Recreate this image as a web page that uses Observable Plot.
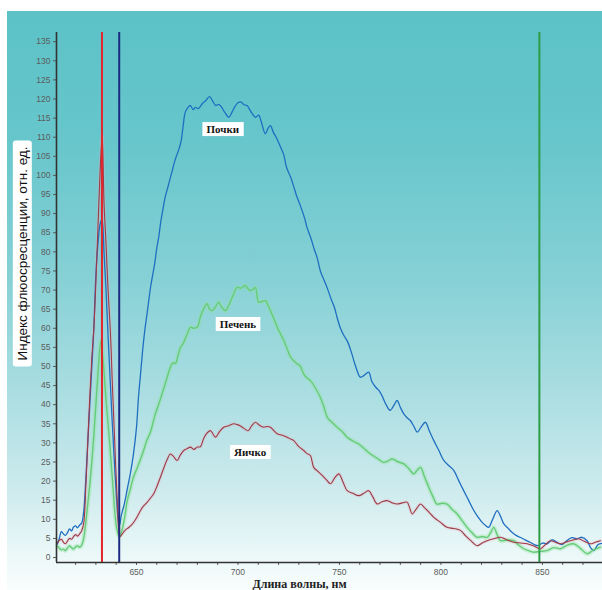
<!DOCTYPE html>
<html><head><meta charset="utf-8">
<script src="https://cdn.jsdelivr.net/npm/d3@7"></script>
<script src="https://cdn.jsdelivr.net/npm/@observablehq/plot@0.6"></script>
<style>
html,body{margin:0;padding:0;background:#fff;}
#wrap{position:relative;width:602px;height:590px;overflow:hidden;}
#bg{position:absolute;left:7px;top:11px;right:0;bottom:0;background:linear-gradient(to bottom,#5cc2c7 0%,#66c6cb 22%,#84d0d5 45%,#a8dde1 65%,#cceaed 82%,#eef9f9 95%,#f8fdfd 100%);}
#chart{position:absolute;left:0;top:0;}
</style></head>
<body><div id="wrap"><div id="bg"></div><div id="chart"></div></div>
<script>
// ---- data (wavelength nm, fluorescence index) ----
const kidney = [[611,3.5],[612,5],[613,6.8],[614,6.2],[615,5.8],[616,6.5],[617,7.5],[618,7],[619,8],[620,8.3],[621,7.8],[622,8.5],[623,9],[624,12],[625,20],[626,30],[627,40],[628,50],[629,60],[630,74],[631,82],[632,87],[633,88.5],[634,80],[635,70],[636,58],[637,47],[638,36],[639,26],[640,17],[641,10],[641.7,8.5],[642.5,11],[644,14],[645.5,18],[647,22],[648.5,27],[650,34],[651,42],[652,48],[653,54],[654,59],[655,63],[656,67],[657,71],[658,74],[659,77],[660,81],[661,84],[662,88],[663,91],[664,94],[665,96],[666,98],[667,100],[668,102],[669,104],[670,105.5],[671,107],[672,109],[673,113],[674,116.5],[675,117.5],[676.5,118.3],[678,117.2],[679,117.8],[680.5,117.5],[682.5,118.8],[684,119.5],[686,120.6],[687.5,119.5],[689,118.3],[690.5,118.6],[692,117.8],[693.5,116.5],[695.5,115.2],[697,116.5],[698.5,118],[700,119],[701.5,119.2],[703,118.5],[704.5,118.3],[706,117],[707.5,115.8],[708.7,115.2],[710.2,115.8],[711.5,114],[713.5,110.9],[715,112.5],[716,113],[717.5,111.2],[719,109.8],[721,107.4],[722.5,105.5],[724,102],[726,99.5],[727.5,97],[729,94.5],[731,91.7],[733,88.5],[734,86.4],[736,83.5],[737.5,80.8],[739,78.5],[740.6,75],[742.5,72.5],[744,70.5],[746,67.5],[747.5,65.5],[749,62.5],[750.5,60],[752,58.3],[754,56.5],[756,53.5],[758,50],[760.3,47.2],[762,47.6],[764.4,48.5],[766,46],[768,44.5],[769.5,43.7],[771,42.3],[773,40],[775,38.5],[776.8,39.8],[778.4,41.1],[780,39.3],[781.7,37.6],[783.3,36.6],[785,35.8],[786.7,34.3],[788.3,32.8],[790.3,34.2],[792.3,35.4],[794.4,33],[796.5,30.6],[799,28],[801.4,25.4],[804,24],[806.3,22.8],[808.7,20.2],[811.2,17.5],[813.7,14.9],[816.2,12.3],[818.3,10.6],[820.3,9.2],[822,8.4],[823.5,7.9],[825.5,10],[827.7,12.3],[829.5,10.6],[831,8.8],[833,7.7],[835,6.6],[837,5.8],[839,5.3],[841.5,4.6],[844,4],[846,3.4],[848,3.1],[850,3.8],[852.3,3.6],[854.8,4.6],[857.2,4],[859.6,3.4],[862,4.4],[864.5,5.2],[867,4.9],[869.5,5.3],[872,4.4],[873.7,2.6],[875.3,1.8],[877.4,3.4],[879.5,3.7]];

const liver = [[611,3],[612,2.5],[613,2],[614,2.2],[615,1.8],[616,2.5],[617,3],[618,2.6],[619,2.2],[620,2.8],[621,3],[622,2.7],[623,3.2],[624,5],[625,9],[626,14],[627,19],[628,25],[629,32],[630,40],[631,48],[632,55],[632.5,56.8],[633.5,52],[634.5,45],[635.5,38],[636.5,32],[637.5,25],[638.5,18],[639.5,11],[640.5,7],[641.5,5.5],[642.5,6.5],[644,10],[645.5,15],[647,18],[648.5,21],[650,23],[651.5,25],[653.5,28],[655,30.5],[657,33],[659,37],[661.5,41],[663,43.5],[665,47],[666.7,49.8],[668,51],[669.2,50.8],[670.5,53],[671.7,55],[673,56],[675,58.5],[676.6,60.3],[678,60],[680,60.3],[681.5,63],[683,65],[684.8,66.4],[686,65],[687.3,64.6],[688.8,65.5],[690.5,66.8],[692,65.5],[693.8,64.6],[695.5,66],[697.5,68.5],[699.6,70.7],[701.5,70.5],[703.7,71.2],[705,70.3],[706.2,69.9],[707.5,70.2],[708.6,70.7],[710.2,66.8],[711.8,67],[713.5,67.2],[714.8,66],[716,64.6],[717.7,62.5],[719.3,60.3],[721,58.5],[722.6,56.8],[724.3,54.5],[726,52.4],[728.5,51],[730.8,50],[732.4,48],[734,47],[735.7,46.3],[738,44.5],[740.6,41.9],[742.3,39.5],[744,36.7],[746.5,35.3],[748.9,34.1],[751.3,33],[753.8,31.5],[756.6,30.5],[759.5,29.7],[762.4,28.4],[765.3,27.1],[768.5,26],[771.8,24.9],[774,25.3],[776,25.8],[779,25],[781.7,24.5],[784.1,23.3],[786.6,21.9],[788.2,22.8],[789.9,23.6],[792,21],[794,18.4],[796,16],[798,14],[800.5,14.2],[803,14],[805.5,12.6],[808,11.4],[810.5,9.6],[812.9,7.9],[815.3,6.5],[817.8,5.3],[820.3,5.5],[822.8,5.3],[824.5,6.5],[826,7.9],[827.7,6],[829.3,4.4],[832.6,4.6],[835.9,4.4],[838.4,3.2],[840.8,2.3],[843.2,1.8],[845.7,1.4],[849,1.6],[852.3,1.8],[855.6,2.6],[858.9,2.3],[862.1,3.2],[865.4,3.6],[868.7,2.4],[872,1],[875.3,2],[878.6,2.7]];

const testis = [[611,3.8],[612,4.5],[613,4.8],[614,4],[615,3.6],[616,4.3],[617,5],[618,4.8],[619,5.5],[620,6],[621,5.6],[622,6.2],[623,7],[624,9],[625,18],[626,30],[627,42],[628,52],[629,60],[630,72],[631,86],[632,100],[633.1,110.5],[634,93],[635,82],[636,70],[637.2,58.5],[638,47],[639,34],[639.8,23.5],[640.6,14],[641.3,7],[642,5.5],[643,6.2],[644.5,7.2],[646,7.8],[647.5,8.5],[649,9.5],[650.5,10.8],[652,12.3],[653.5,13.5],[655,14.3],[656.8,15.5],[658.5,16.7],[660.2,18.8],[661.8,21],[663.5,23.5],[665,25.5],[666.7,27.1],[668.3,26.4],[670,25.4],[671.6,26.8],[673.3,28],[675,28.5],[676.6,28.9],[678.2,28.3],[680,28.9],[681.5,29],[683,31],[684.5,32.4],[686.5,33.2],[687.8,32.2],[689,31.5],[691,33],[693,34.1],[695.5,34.5],[698,35],[699.5,34.8],[701,34.5],[703,33.8],[705,33.2],[706.8,34.5],[708.6,35.4],[710.6,34.6],[712.7,34.1],[714.4,34.3],[716,34.1],[717.7,33.2],[719.3,32.4],[721.8,32],[724.2,31.5],[726,31],[727.5,30.6],[730,29],[732.4,28],[734,27.2],[735.7,26.7],[737.3,23.6],[739.5,22.5],[741.5,21.5],[743.6,20.3],[745.6,19.3],[747.6,20.8],[749.7,21.9],[751.8,19.7],[753.8,17.5],[756.6,16.8],[759.5,16.2],[762,16.8],[764.4,17.5],[766.5,15.8],[768.6,14],[771,14.6],[773.5,14.9],[776,14.3],[778.4,14],[781,14.3],[783.3,14.5],[784.6,13],[785.8,11.4],[788,12.8],[789.9,14],[792,13],[794.2,11.8],[796.5,10.5],[799.8,9.2],[803,7.9],[806.3,7.6],[809.6,7.1],[812.3,5.6],[815,4.3],[817.8,3.1],[820.3,3.8],[822.8,4.4],[826,4.9],[829.3,5.3],[832.6,4.6],[835.9,4],[839.2,3.8],[842.5,3.6],[845.8,3],[849,2.3],[851.5,3.4],[853.9,4.4],[856.4,4],[858.9,3.6],[861.3,4],[863.8,4.4],[865.9,4.7],[867.9,4.9],[870.8,4.2],[873.6,3.6],[876.1,4],[878.6,4.4]];

const markerNm = [633, 641.5, 848.5];
const seriesNames = ["Почки", "Печень", "Яичко"];
const labelAnchors = [[692.5, 112], [700, 61], [706, 27.5]];
const yTicks = [0,5,10,15,20,25,30,35,40,45,50,55,60,65,70,75,80,85,90,95,100,105,110,115,120,125,130,135];
const xTickLabels = [650, 700, 750, 800, 850];
const xMinorTicks = [620,630,640,650,660,670,680,690,700,710,720,730,740,750,760,770,780,790,800,810,820,830,840,850,860,870];
const yTitle = "Индекс флюосресценции, отн. ед.";
const xTitle = "Длина волны, нм";

// ---- styling ----
const xDomain = [610.6, 879.6];
const yDomain = [-1.3, 137.4];
const seriesColors = ["#1f6fc0", "#66cc7a", "#9c3a48"];
const markerColors = ["#e2262b", "#1c2a82", "#2e9c45"];
const serif = "'Liberation Serif','DejaVu Serif',serif";

const labelData = seriesNames.map((t, i) => ({t, x: labelAnchors[i][0], y: labelAnchors[i][1]}));
const markers = markerNm.map((x, i) => ({x, c: markerColors[i]}));

const chart = Plot.plot({
  width: 602, height: 590,
  marginTop: 32, marginBottom: 28, marginLeft: 56, marginRight: 0,
  style: {background: "transparent", fontFamily: "'Liberation Sans', Arial, sans-serif", fontSize: "8.5px", color: "#5c5c5c", overflow: "visible"},
  x: {domain: xDomain, ticks: xMinorTicks, tickFormat: d => xTickLabels.includes(d) ? String(d) : "", tickSize: 3, tickPadding: 3, label: null},
  y: {domain: yDomain, ticks: yTicks, tickSize: 3, tickPadding: 3, label: null},
  marks: [
    Plot.line(liver, {x: d => d[0], y: d => d[1], stroke: "#8fe39a", strokeWidth: 4.5, strokeOpacity: 0.35, curve: "catmull-rom"}),
    Plot.line(testis, {x: d => d[0], y: d => d[1], stroke: "#e8b0b8", strokeWidth: 3.5, strokeOpacity: 0.3, curve: "catmull-rom"}),
    Plot.line(kidney, {x: d => d[0], y: d => d[1], stroke: seriesColors[0], strokeWidth: 1.3, curve: "catmull-rom"}),
    Plot.line(liver, {x: d => d[0], y: d => d[1], stroke: seriesColors[1], strokeWidth: 1.4, curve: "catmull-rom"}),
    Plot.line(testis, {x: d => d[0], y: d => d[1], stroke: seriesColors[2], strokeWidth: 1.1, curve: "catmull-rom"}),
    Plot.ruleX(markers, {x: "x", stroke: "c", strokeWidth: 2}),
    Plot.ruleY([yDomain[0]], {stroke: "#333", strokeWidth: 1.6}),
    Plot.ruleX([xDomain[0]], {stroke: "#333", strokeWidth: 1.6}),
    Plot.text(labelData, {x: "x", y: "y", text: "t", fontFamily: serif, fontWeight: "bold", fontSize: 11, fill: "#151515"}),
    Plot.text([yTitle], {frameAnchor: "left", textAnchor: "middle", dx: -34, dy: -44, rotate: -90, fontSize: 13.5, fill: "#111", fontFamily: "'Liberation Sans', Arial, sans-serif"}),
    Plot.text([xTitle], {frameAnchor: "bottom", dx: -30, dy: 25, fontSize: 12, fontWeight: "bold", fill: "#222", fontFamily: serif})
  ]
});
document.getElementById("chart").appendChild(chart);

// white boxes behind labels
const NS = "http://www.w3.org/2000/svg";
chart.querySelectorAll("text").forEach(t => {
  const s = t.textContent;
  let px, py, rx;
  if (seriesNames.includes(s)) { px = 4; py = 1; rx = 0; }
  else if (s === yTitle) { px = 6; py = 2; rx = 3; }
  else return;
  const b = t.getBBox();
  const r = document.createElementNS(NS, "rect");
  r.setAttribute("x", b.x - px); r.setAttribute("y", b.y - py);
  r.setAttribute("width", b.width + 2 * px); r.setAttribute("height", b.height + 2 * py);
  r.setAttribute("rx", rx);
  r.setAttribute("style", "fill:#fff;stroke:none");
  const tr = t.getAttribute("transform"); if (tr) r.setAttribute("transform", tr);
  t.parentNode.insertBefore(r, t);
});
</script>
</body></html>
